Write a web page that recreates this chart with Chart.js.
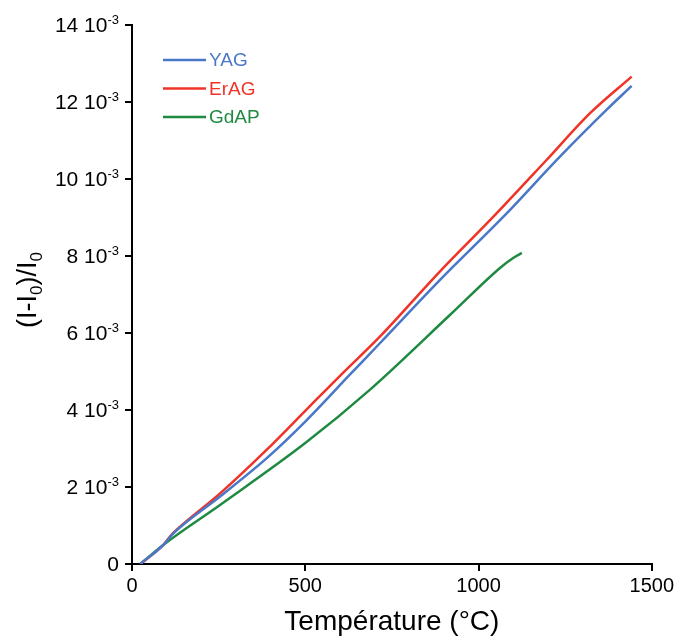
<!DOCTYPE html>
<html>
<head>
<meta charset="utf-8">
<script src="https://cdn.jsdelivr.net/npm/chart.js@4.4.0/dist/chart.umd.min.js"></script>
<style>
  html, body { margin: 0; padding: 0; background: #fff; }
  #wrap { width: 677px; height: 639px; }
</style>
</head>
<body>
<div id="wrap"><canvas id="myChart" width="677" height="639"></canvas></div>
<script>
// values, y in units of 1e-3
const yagT  = [24, 91, 120, 255, 389, 500, 630, 716, 889, 1072, 1235, 1370, 1442];
const yagV  = [0, 0.50, 0.80, 1.76, 2.75, 3.70, 4.93, 5.74, 7.38, 9.02, 10.58, 11.80, 12.42];
const eragT = [24, 91, 110, 134, 255, 389, 500, 596, 716, 889, 1043, 1197, 1322, 1442];
const eragV = [0, 0.50, 0.72, 0.93, 1.84, 2.97, 3.98, 4.85, 5.91, 7.60, 9.02, 10.50, 11.71, 12.66];
const gdapT = [24, 91, 255, 500, 687, 919, 1062, 1100, 1125];
const gdapV = [0, 0.50, 1.54, 3.14, 4.53, 6.48, 7.69, 7.95, 8.08];

const xTicks = [0, 500, 1000, 1500];
const yTicks = [0, 2, 4, 6, 8, 10, 12, 14];

const FONT = '"Liberation Sans", Arial, sans-serif';

function pts(t, v) {
  return t.map((x, i) => ({x: x, y: v[i] / 1000}));
}

// y tick labels like "14 10^-3" and the y title with subscripts,
// plus the legend inside the plot, top-left
const extras = {
  id: 'extras',
  afterDraw(chart) {
    const ctx = chart.ctx;
    const ys = chart.scales.y;
    ctx.save();
    ctx.fillStyle = '#000';
    ctx.textBaseline = 'alphabetic';
    const xr = ys.right - 7 - 6;
    ys.ticks.forEach(t => {
      const n = Math.round(t.value * 1000);
      const py = ys.getPixelForValue(t.value);
      const base = py + 7;
      ctx.textAlign = 'right';
      if (n === 0) {
        ctx.font = '21px ' + FONT;
        ctx.fillText('0', xr, base);
        return;
      }
      ctx.font = '13px ' + FONT;
      const sw = ctx.measureText('-3').width;
      ctx.fillText('-3', xr, base - 8);
      ctx.font = '21px ' + FONT;
      ctx.fillText(n + ' 10', xr - sw, base);
    });

    // y title "(I-I0)/I0"
    const parts = [['(I-I', 27, 0], ['0', 17, 6], [')/I', 27, 0], ['0', 17, 6]];
    let total = 0;
    parts.forEach(p => { ctx.font = p[1] + 'px ' + FONT; total += ctx.measureText(p[0]).width; });
    ctx.translate(36, 290);
    ctx.rotate(-Math.PI / 2);
    ctx.textAlign = 'left';
    let x = -total / 2;
    parts.forEach(p => {
      ctx.font = p[1] + 'px ' + FONT;
      ctx.fillText(p[0], x, p[2]);
      x += ctx.measureText(p[0]).width;
    });
    ctx.restore();

    ctx.save();
    const x0 = chart.chartArea.left + 31;
    let y = 60;
    ctx.font = '19px ' + FONT;
    ctx.textBaseline = 'middle';
    chart.data.datasets.forEach(ds => {
      ctx.strokeStyle = ds.borderColor;
      ctx.lineWidth = 2.5;
      ctx.beginPath();
      ctx.moveTo(x0, y);
      ctx.lineTo(x0 + 43, y);
      ctx.stroke();
      ctx.fillStyle = ds.borderColor;
      ctx.fillText(ds.label, x0 + 46, y + 1);
      y += 28.5;
    });
    ctx.restore();
  }
};

const line = (label, t, v, color) => ({
  label: label,
  data: pts(t, v),
  borderColor: color,
  backgroundColor: color,
  borderWidth: 2.5,
  pointRadius: 0,
  cubicInterpolationMode: 'monotone',
  fill: false
});

var ctx = document.getElementById('myChart');
new Chart(ctx, {
  type: 'line',
  data: {
    datasets: [
      line('YAG', yagT, yagV, '#4a78c8'),
      line('ErAG', eragT, eragV, '#ef3427'),
      line('GdAP', gdapT, gdapV, '#1f8a42')
    ]
  },
  options: {
    responsive: false,
    animation: false,
    layout: { padding: { left: 0, right: 3, top: 25, bottom: 0 } },
    plugins: {
      legend: { display: false },
      tooltip: { enabled: false }
    },
    scales: {
      x: {
        type: 'linear',
        min: 0, max: 1500,
        afterBuildTicks: s => { s.ticks = xTicks.map(v => ({value: v})); },
        afterFit: s => { s.height = 75; },
        grid: { drawOnChartArea: false, color: '#000', lineWidth: 2, tickLength: 7 },
        border: { color: '#000', width: 2 },
        ticks: {
          color: '#000', font: { family: FONT, size: 20 }, padding: 3, maxRotation: 0,
          callback: v => String(v)
        },
        title: {
          display: true, text: 'Température (°C)', color: '#000',
          font: { family: FONT, size: 28 }, padding: { top: 0, bottom: 0 }
        }
      },
      y: {
        type: 'linear',
        min: 0, max: 0.014,
        afterBuildTicks: s => { s.ticks = yTicks.map(v => ({value: v / 1000})); },
        afterFit: s => { s.width = 132; },
        grid: { drawOnChartArea: false, color: '#000', lineWidth: 2, tickLength: 7 },
        border: { color: '#000', width: 2 },
        ticks: {
          // drawn by the extras plugin with a real superscript
          color: 'rgba(0,0,0,0)', font: { family: FONT, size: 20 }, padding: 6,
          callback: v => {
            const n = Math.round(v * 1000);
            return n === 0 ? '0' : n + ' 10-3';
          }
        }
      }
    }
  },
  plugins: [extras]
});
</script>
</body>
</html>
